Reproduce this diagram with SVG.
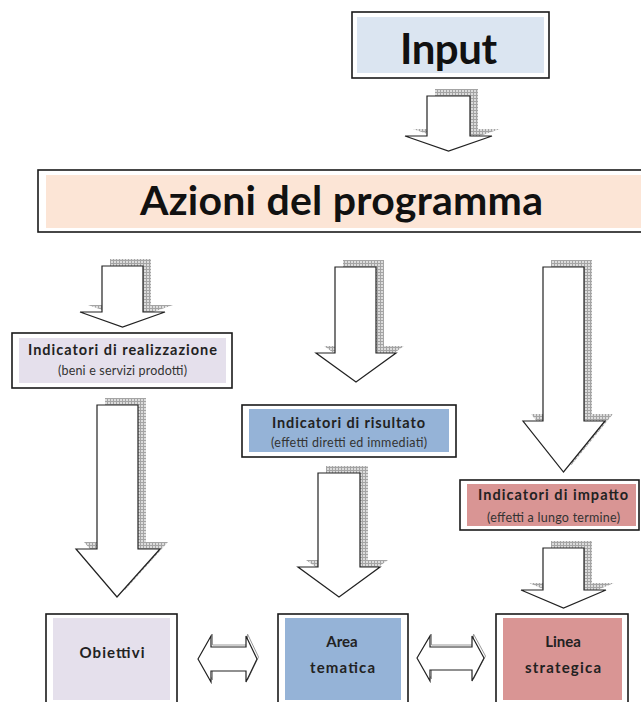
<svg xmlns="http://www.w3.org/2000/svg" xmlns:xlink="http://www.w3.org/1999/xlink" width="641" height="702" viewBox="0 0 641 702">
<style>
.frame{fill:#fff;stroke:#1a1a1a;stroke-width:1.6}
.arrow{fill:#fff;stroke:#222;stroke-width:1.2;stroke-linejoin:miter}
.shadow{fill:url(#hatch);stroke:none}
.dshadow{fill:none;stroke:#9a9a9a;stroke-width:1}
.big{font-family:Lato,"Open Sans","Liberation Sans",sans-serif;font-weight:bold;fill:#111;text-anchor:middle}
.hd{font-family:Lato,"Open Sans","Liberation Sans",sans-serif;font-weight:bold;font-size:14.5px;fill:#222;text-anchor:middle}
.sub{font-family:Lato,"Open Sans","Liberation Sans",sans-serif;font-size:12.5px;fill:#333;text-anchor:middle}
.lbl{font-family:Lato,"Open Sans","Liberation Sans",sans-serif;font-weight:bold;font-size:15px;fill:#222;text-anchor:middle}
</style>
<defs>
<pattern id="hatch" width="3" height="3" patternUnits="userSpaceOnUse">
<rect width="3" height="3" fill="#dcdcdc"/>
<rect width="3" height="1" fill="#a4a4a4"/>
<rect width="1" height="3" fill="#a4a4a4"/>
</pattern>
</defs>
<rect width="641" height="702" fill="#fff"/>

<g id="connectors">
<path class="shadow" transform="translate(8,-7)" d="M427,96 L470,96 L470,136 L492,136 L448.5,151 L405,136 L427,136 Z"/>
<path class="arrow" d="M427,96 L470,96 L470,136 L492,136 L448.5,151 L405,136 L427,136 Z"/>

<path class="shadow" transform="translate(8,-7)" d="M102,266 L143,266 L143,312 L165,312 L122.5,327 L80,312 L102,312 Z"/>
<path class="arrow" d="M102,266 L143,266 L143,312 L165,312 L122.5,327 L80,312 L102,312 Z"/>

<path class="shadow" transform="translate(8,-7)" d="M335,267 L376,267 L376,353 L396,353 L356,382 L316,353 L335,353 Z"/>
<path class="arrow" d="M335,267 L376,267 L376,353 L396,353 L356,382 L316,353 L335,353 Z"/>

<path class="shadow" transform="translate(8,-7)" d="M543,267 L584,267 L584,421 L605,421 L563.5,472 L523,421 L543,421 Z"/>
<path class="arrow" d="M543,267 L584,267 L584,421 L605,421 L563.5,472 L523,421 L543,421 Z"/>

<path class="shadow" transform="translate(8,-7)" d="M97,405 L138,405 L138,549 L160,549 L117,597 L76,549 L97,549 Z"/>
<path class="arrow" d="M97,405 L138,405 L138,549 L160,549 L117,597 L76,549 L97,549 Z"/>

<path class="shadow" transform="translate(8,-7)" d="M318,473 L360,473 L360,567 L380,567 L339,597 L298,567 L318,567 Z"/>
<path class="arrow" d="M318,473 L360,473 L360,567 L380,567 L339,597 L298,567 L318,567 Z"/>

<path class="shadow" transform="translate(8,-7)" d="M543,548 L584,548 L584,590 L606,590 L563.5,608 L521,590 L543,590 Z"/>
<path class="arrow" d="M543,548 L584,548 L584,590 L606,590 L563.5,608 L521,590 L543,590 Z"/>

<path class="dshadow" transform="translate(1.5,-2)" d="M198,659 L211,636 L211,647 L246,647 L246,636 L257,659 L246,682 L246,671 L211,671 L211,682 Z"/>
<path class="arrow" d="M198,659 L211,636 L211,647 L246,647 L246,636 L257,659 L246,682 L246,671 L211,671 L211,682 Z"/>

<path class="dshadow" transform="translate(1.5,-2)" d="M417,658 L430,636 L430,647 L472,647 L472,636 L484,658 L472,681 L472,670 L430,670 L430,681 Z"/>
<path class="arrow" d="M417,658 L430,636 L430,647 L472,647 L472,636 L484,658 L472,681 L472,670 L430,670 L430,681 Z"/>
</g>

<g id="input">
<rect class="frame" x="352" y="12" width="197" height="66"/>
<rect x="357" y="17" width="187" height="56" fill="#dbe5f1"/>
<text class="big" x="448.5" y="64" font-size="42" textLength="97">Input</text>
</g>

<g id="azioni">
<rect class="frame" x="38" y="170" width="612" height="62"/>
<rect x="46" y="175" width="600" height="53" fill="#fce5d6"/>
<text class="big" x="341.5" y="215" font-size="41" textLength="403">Azioni del programma</text>
</g>

<g id="realizzazione">
<rect class="frame" x="12" y="333" width="220" height="55"/>
<rect x="19" y="338" width="207" height="45" fill="#e5e0ec"/>
<text class="hd" x="122.5" y="355" textLength="189">Indicatori di realizzazione</text>
<text class="sub" x="122.5" y="375" textLength="129">(beni e servizi prodotti)</text>
</g>

<g id="risultato">
<rect class="frame" x="242" y="405" width="214" height="52"/>
<rect x="249" y="409" width="200" height="43" fill="#95b3d7"/>
<text class="hd" x="348.5" y="428" textLength="153">Indicatori di risultato</text>
<text class="sub" x="349" y="447" textLength="156">(effetti diretti ed immediati)</text>
</g>

<g id="impatto">
<rect class="frame" x="460" y="480" width="179" height="50"/>
<rect x="467" y="484" width="169" height="42" fill="#d99594"/>
<text class="hd" x="553" y="500" textLength="150">Indicatori di impatto</text>
<text class="sub" x="553.5" y="522" textLength="133">(effetti a lungo termine)</text>
</g>

<g id="obiettivi">
<rect class="frame" x="46" y="614" width="131" height="95"/>
<rect x="53" y="618" width="117" height="82" fill="#e5e0ec"/>
<text class="lbl" x="112" y="658" textLength="65">Obiettivi</text>
</g>

<g id="area">
<rect class="frame" x="278" y="614" width="130" height="95"/>
<rect x="285" y="618" width="116" height="82" fill="#95b3d7"/>
<text class="lbl" x="342" y="647">Area</text>
<text class="lbl" x="342.5" y="673" textLength="65">tematica</text>
</g>

<g id="linea">
<rect class="frame" x="496" y="614" width="132" height="95"/>
<rect x="503" y="618" width="119" height="82" fill="#d99594"/>
<text class="lbl" x="563" y="647">Linea</text>
<text class="lbl" x="563" y="673" textLength="76">strategica</text>
</g>
</svg>
